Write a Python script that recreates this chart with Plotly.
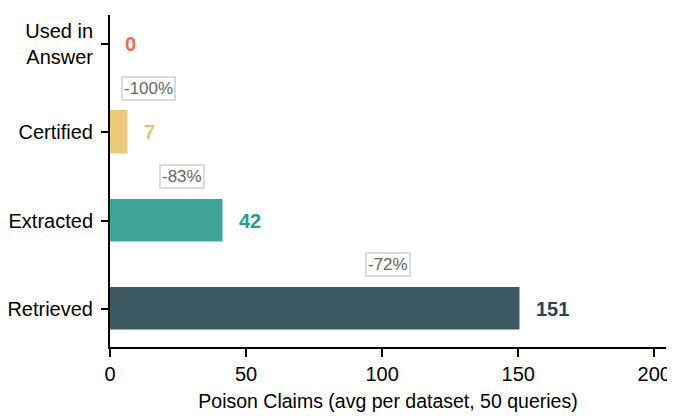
import plotly.graph_objects as go

stages = ["Retrieved", "Extracted", "Certified", "Used in Answer"]
tick_text = ["Retrieved", "Extracted", "Certified", "Used in<br>Answer"]
claims = [151, 42, 7, 0]
bar_colors = ["#264653", "#2a9d8f", "#e9c46a", "#e76f51"]
pct_label_x = [102, 26.5, 14]

fig = go.Figure()
fig.add_trace(go.Bar(
    y=list(range(len(stages))), x=claims, orientation="h",
    width=0.5,
    marker=dict(color=bar_colors, opacity=0.9, line=dict(color="white", width=1.5)),
    hoverinfo="skip",
))

font = "Liberation Sans, Arial, sans-serif"
annotations = []
for i, v in enumerate(claims):
    annotations.append(dict(
        x=v, y=i, xref="x", yref="y", text=f"<b>{v}</b>", showarrow=False,
        xanchor="left", xshift=13, font=dict(family=font, size=20, color=bar_colors[i]),
    ))
for i in range(len(claims) - 1):
    a, b = claims[i], claims[i + 1]
    pct = round((b - a) / a * 100)
    annotations.append(dict(
        x=pct_label_x[i], y=i + 0.5, xref="x", yref="y", text=f"{pct}%", showarrow=False,
        font=dict(family=font, size=17, color="#666666"),
        bgcolor="white", bordercolor="#dcdcdc", borderwidth=2, borderpad=1,
    ))

# page body has an 8px margin, so the figure is sized/offset to compensate
fig.update_layout(
    width=667, height=408,
    margin=dict(l=102, r=9, t=7, b=69),
    plot_bgcolor="white", paper_bgcolor="white",
    showlegend=False,
    annotations=annotations,
    font=dict(family=font, size=20, color="black"),
    bargap=0,
)
fig.update_xaxes(
    range=[0, 204.3], tickvals=[0, 50, 100, 150, 200],
    showgrid=False, zeroline=False, automargin=False,
    showline=True, linecolor="black", linewidth=2,
    ticks="outside", ticklen=8, tickwidth=1.5, tickcolor="black",
    tickfont=dict(size=20),
    title=dict(text="Poison Claims (avg per dataset, 50 queries)", font=dict(size=19.5), standoff=10),
)
fig.update_yaxes(
    range=[-0.43, 3.33], tickvals=list(range(len(stages))), ticktext=tick_text,
    showgrid=False, zeroline=False, automargin=False,
    showline=True, linecolor="black", linewidth=2, layer="below traces",
    ticks="outside", ticklen=7, tickwidth=1.5, tickcolor="black",
    tickfont=dict(size=20), ticklabelstandoff=4,
)

fig.write_html("out.html")
